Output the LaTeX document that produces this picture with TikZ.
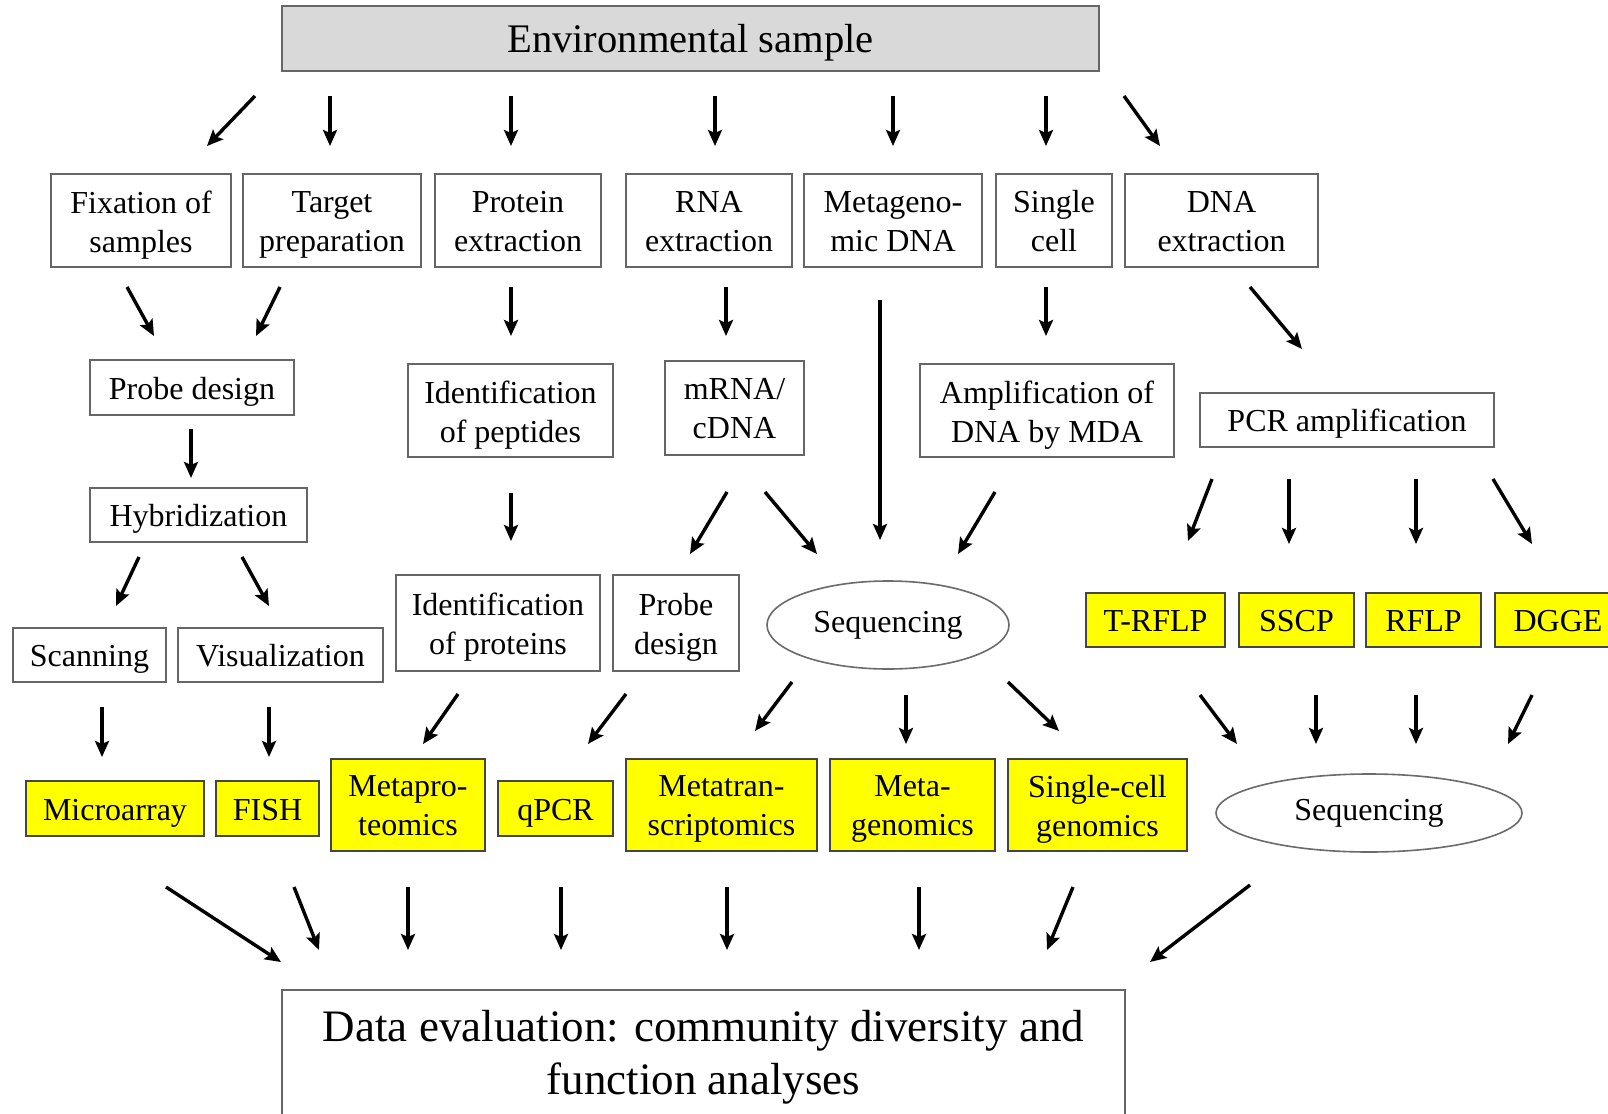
\documentclass[tikz,border=0pt]{standalone}
\usepackage{fontspec}
\setmainfont{Liberation Serif}
\usetikzlibrary{arrows.meta,shapes.geometric}
\definecolor{boxgray}{gray}{0.40}
\definecolor{envgray}{gray}{0.85}
\definecolor{hlyellow}{rgb}{1,1,0}
\definecolor{ydark}{gray}{0.27}
\definecolor{ellgray}{gray}{0.42}
\begin{document}
\begin{tikzpicture}[x=0.5pt,y=-0.5pt,
  fr/.style n args={5}{minimum width=#1*0.5pt, minimum height=#2*0.5pt, inner sep=0pt, align=center,
     font=\fontsize{16}{19.5}\selectfont, yshift=-#5,
     execute at begin node=\strut, execute at end node=\strut,
     preaction={draw=#4, fill=#3, line width=1pt, transform canvas={yshift=#5}}},
  bx/.style 2 args={fr={#1}{#2}{white}{boxgray}{2pt}},
  bxx/.style 2 args={fr={#1}{#2}{white}{boxgray}{3.3pt}},
  ybx/.style 2 args={fr={#1}{#2}{hlyellow}{ydark}{2pt}},
  ybxx/.style 2 args={fr={#1}{#2}{hlyellow}{ydark}{3.4pt}},
  ell/.style 2 args={ellipse, draw=ellgray, line width=0.8pt, fill=white, minimum width=#1*0.5pt, minimum height=#2*0.5pt, inner sep=0pt, font=\fontsize{16}{19.5}\selectfont},
  arr/.style={-{Stealth[length=8pt,width=7pt,inset=1.5pt]}, line width=1.7pt}
]
\useasboundingbox (0,0) rectangle (1608,1114);
\clip (0,0) rectangle (1608,1114);
\fill[white] (0,0) rectangle (1608,1114);

% top
\node[fr={817}{65}{envgray}{boxgray}{2pt}, font=\fontsize{20.3}{24}\selectfont] (env) at (690.5,38.5) {Environmental sample};

% first row
\node[bxx={180}{93}] (fix) at (141,220.5) {Fixation of\\samples};
\node[bxx={178}{93}] (tgt) at (332,220.5) {Target\\preparation};
\node[bxx={166}{93}] (prot) at (518,220.5) {Protein\\extraction};
\node[bxx={166}{93}] (rna) at (709,220.5) {RNA\\extraction};
\node[bxx={178}{93}] (meta) at (893,220.5) {Metageno-\\mic DNA};
\node[bxx={116}{93}] (single) at (1054,220.5) {Single\\cell};
\node[bxx={193}{93}] (dna) at (1221.5,220.5) {DNA\\extraction};

% second row
\node[bx={204}{55}] (probe1) at (192,387.5) {Probe design};
\node[bxx={205}{93}] (pept) at (510.5,410.5) {Identification\\of peptides};
\node[bxx={139}{94}] (mrna) at (734.5,408) {mRNA/\\cDNA};
\node[bxx={254}{93}] (mda) at (1047,410.5) {Amplification of\\DNA by MDA};
\node[bx={294}{54}] (pcr) at (1347,420) {PCR amplification};

\node[bx={217}{54}] (hyb) at (198.5,515) {Hybridization};

% third row
\node[bx={153}{54}] (scan) at (89.5,655) {Scanning};
\node[bx={205}{54}] (vis) at (280.5,655) {Visualization};
\node[bxx={204}{96}] (protid) at (498,623) {Identification\\of proteins};
\node[bxx={126}{96}] (probe2) at (676,623) {Probe\\design};
\node[ell={242}{88}] (seq1) at (888,625) {Sequencing};
\node[ybx={139}{54}] (trflp) at (1155.5,620) {T-RFLP};
\node[ybx={115}{54}] (sscp) at (1296.5,620) {SSCP};
\node[ybx={115}{54}] (rflp) at (1423.5,620) {RFLP};
\node[ybx={126}{54}] (dgge) at (1558,620) {DGGE};

% yellow row
\node[ybx={178}{55}] (micro) at (115,808.5) {Microarray};
\node[ybx={103}{55}] (fish) at (267.5,808.5) {FISH};
\node[ybxx={154}{92}] (mprot) at (408,805) {Metapro-\\teomics};
\node[ybx={115}{55}] (qpcr) at (555.5,808.5) {qPCR};
\node[ybxx={191}{92}] (mtrans) at (721.5,805) {Metatran-\\scriptomics};
\node[ybxx={165}{92}] (mgen) at (912.5,805) {Meta-\\genomics};
\node[ybxx={179}{92}] (scg) at (1097.5,805) {Single-cell\\genomics};
\node[ell={306}{78}, yshift=-1pt] (seq2) at (1369,811) {Sequencing};

% bottom
\node[bxx={843}{127}, font=\fontsize{22.5}{26.5}\selectfont] (data) at (703.5,1053.5) {Data evaluation: community diversity and\\function analyses};

% connectors (free-floating arrows between the named nodes)
\foreach \n/\xa/\ya/\xb/\yb in {
  env-fix/255/96/207/146,
  env-tgt/330/96/330/146,
  env-prot/511/96/511/146,
  env-rna/715/96/715/146,
  env-meta/893/96/893/146,
  env-single/1046/96/1046/146,
  env-dna/1124/96/1160/146,
  fix-probe1/127/287/154/336,
  tgt-probe1/280/287/256/336,
  prot-pept/511/287/511/336,
  rna-mrna/726/287/726/336,
  meta-seq1/880/300/880/540,
  single-mda/1046/287/1046/336,
  dna-pcr/1250/287/1302/349,
  probe1-hyb/191/429/191/478,
  hyb-scan/139/557/116/606,
  hyb-vis/242/557/269/606,
  pept-protid/511/493/511/541,
  mrna-probe2/727/492/690/554,
  mrna-seq1/765/492/817/554,
  mda-seq1/995/492/958/554,
  pcr-trflp/1212/479/1188/541,
  pcr-sscp/1289/479/1289/544,
  pcr-rflp/1416/479/1416/544,
  pcr-dgge/1493/479/1532/544,
  scan-micro/102/707/102/757,
  vis-fish/269/707/269/757,
  protid-mprot/458/694/423/744,
  probe2-qpcr/626/694/588/744,
  seq1-mtrans/792/682/755/731,
  seq1-mgen/906/695/906/744,
  seq1-scg/1008/682/1059/731,
  trflp-seq2/1200/695/1237/744,
  sscp-seq2/1316/695/1316/744,
  rflp-seq2/1416/695/1416/744,
  dgge-seq2/1532/695/1508/744,
  micro-data/166/887/281/962,
  fish-data/294/887/319/950,
  mprot-data/408/887/408/950,
  qpcr-data/561/887/561/950,
  mtrans-data/727/887/727/950,
  mgen-data/919/887/919/950,
  scg-data/1073/887/1047/950,
  seq2-data/1250/885/1150/962%
}{
  \coordinate (\n-a) at (\xa,\ya);
  \coordinate (\n-b) at (\xb,\yb);
  \draw[arr] (\n-a) -- (\n-b);
}
\end{tikzpicture}
\end{document}
